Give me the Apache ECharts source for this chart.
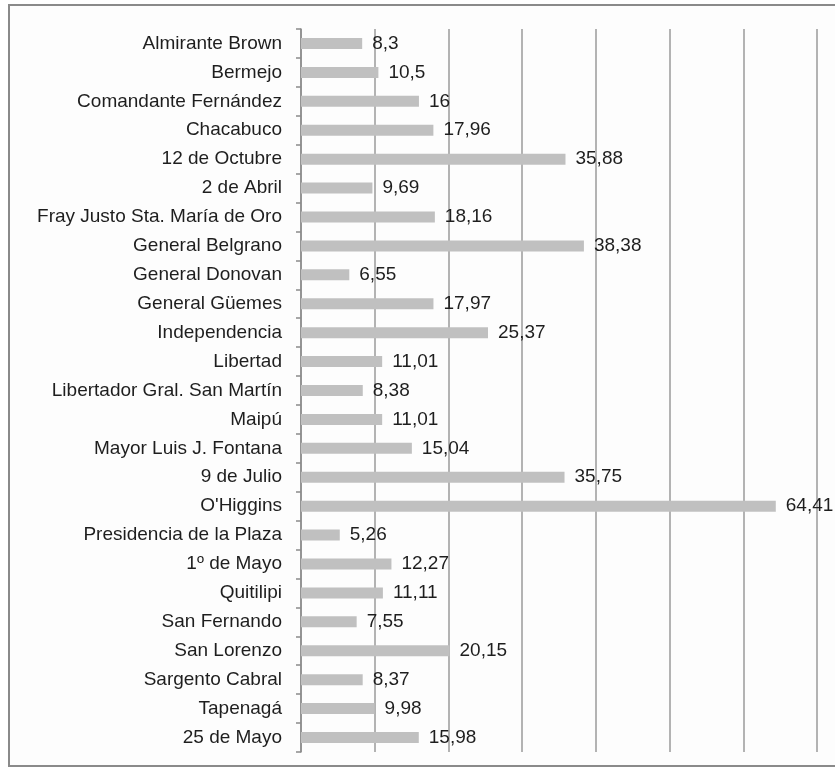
<!DOCTYPE html>
<html>
<head>
<meta charset="utf-8">
<script src="https://cdn.jsdelivr.net/npm/echarts@6/dist/echarts.min.js"></script>
<style>
  html, body { margin: 0; padding: 0; background: #ffffff; }
  #chart { width: 835px; height: 771px; }
</style>
</head>
<body>
<div id="chart"></div>
<script>
// Departamentos, listed top to bottom
const categories = [
  'Almirante Brown', 'Bermejo', 'Comandante Fernández', 'Chacabuco',
  '12 de Octubre', '2 de Abril', 'Fray Justo Sta. María de Oro',
  'General Belgrano', 'General Donovan', 'General Güemes', 'Independencia',
  'Libertad', 'Libertador Gral. San Martín', 'Maipú', 'Mayor Luis J. Fontana',
  '9 de Julio', "O'Higgins", 'Presidencia de la Plaza', '1º de Mayo',
  'Quitilipi', 'San Fernando', 'San Lorenzo', 'Sargento Cabral', 'Tapenagá',
  '25 de Mayo'
];

const values = [
  8.3, 10.5, 16, 17.96, 35.88, 9.69, 18.16, 38.38, 6.55, 17.97, 25.37,
  11.01, 8.38, 11.01, 15.04, 35.75, 64.41, 5.26, 12.27, 11.11, 7.55,
  20.15, 8.37, 9.98, 15.98
];

// Value axis range (gridlines every 10, no tick labels)
const xMin = 0;
const xMax = 70;
const xStep = 10;

const chart = echarts.init(document.getElementById('chart'), null, { renderer: 'canvas' });

const fontFamily = '"Liberation Sans", Arial, Helvetica, sans-serif';

chart.setOption({
  backgroundColor: '#ffffff',
  animation: false,
  graphic: [
    {
      type: 'rect',
      shape: { x: 9, y: 5, width: 840, height: 761 },
      style: { fill: '#fdfdfd', stroke: '#8a8a8a', lineWidth: 2 },
      z: -10
    }
  ],
  grid: { left: 301, top: 29, right: 18, bottom: 19, containLabel: false },
  xAxis: {
    type: 'value',
    min: xMin,
    max: xMax,
    interval: xStep,
    axisLine: { show: false },
    axisTick: { show: false },
    axisLabel: { show: false },
    splitLine: { show: true, lineStyle: { color: '#9a9a9a', width: 1.5 } }
  },
  yAxis: {
    type: 'category',
    data: categories,
    inverse: true,
    axisLine: { show: true, lineStyle: { color: '#8a8a8a', width: 1.5 } },
    axisTick: { show: true, length: 5, lineStyle: { color: '#8a8a8a', width: 1.5 } },
    axisLabel: {
      margin: 19,
      fontSize: 19,
      color: '#1e1e1e',
      fontFamily: fontFamily
    }
  },
  series: [
    {
      type: 'bar',
      data: values,
      barWidth: 11,
      itemStyle: { color: '#c0c0c0' },
      label: {
        show: true,
        position: 'right',
        distance: 10,
        fontSize: 19,
        color: '#1e1e1e',
        fontFamily: fontFamily,
        formatter: p => String(p.value).replace('.', ',')
      }
    }
  ]
});
</script>
</body>
</html>
